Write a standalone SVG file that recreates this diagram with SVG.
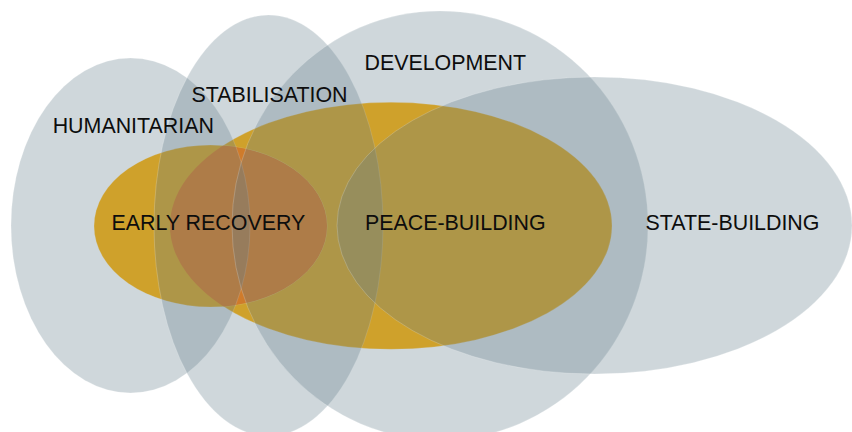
<svg xmlns="http://www.w3.org/2000/svg" width="852" height="432" viewBox="0 0 852 432">
  <style>
    .gray { fill: #647e8b; fill-opacity: 0.31; stroke: #ffffff; stroke-opacity: 0.25; stroke-width: 0.8; }
    .orange { fill: #ffb100; stroke: #ffffff; stroke-opacity: 0.3; stroke-width: 0.8; }
    .overlap { fill: #ff7a00; }
    .label { font-family: "Liberation Sans", Arial, sans-serif; font-size: 21.4px; fill: #0d0d0d; text-anchor: middle; }
  </style>
  <defs>
    <clipPath id="clipPB">
      <ellipse cx="391" cy="225.8" rx="221" ry="123.5"/>
    </clipPath>
  </defs>
  <rect x="0" y="0" width="852" height="432" fill="#ffffff"/>
  <g id="peace-building">
    <ellipse class="orange" cx="391" cy="225.8" rx="221" ry="123.5"/>
  </g>
  <g id="early-recovery">
    <ellipse class="orange" cx="210.5" cy="226" rx="116.5" ry="81"/>
    <ellipse class="overlap" cx="210.5" cy="226" rx="116.5" ry="81" clip-path="url(#clipPB)"/>
  </g>
  <g id="humanitarian">
    <ellipse class="gray" cx="130.5" cy="225.5" rx="119.5" ry="167.5"/>
  </g>
  <g id="stabilisation">
    <ellipse class="gray" cx="268.5" cy="225.5" rx="114.5" ry="210.5"/>
  </g>
  <g id="development">
    <ellipse class="gray" cx="440" cy="225.5" rx="208" ry="214.5"/>
  </g>
  <g id="state-building">
    <ellipse class="gray" cx="594.5" cy="225.5" rx="257.5" ry="148.5"/>
  </g>
  <g id="labels">
    <text class="label" x="133.3" y="133.3">HUMANITARIAN</text>
    <text class="label" x="269.5" y="102">STABILISATION</text>
    <text class="label" x="445.3" y="70">DEVELOPMENT</text>
    <text class="label" x="208.4" y="230">EARLY RECOVERY</text>
    <text class="label" x="455.3" y="230">PEACE-BUILDING</text>
    <text class="label" x="732.5" y="230">STATE-BUILDING</text>
  </g>
</svg>
